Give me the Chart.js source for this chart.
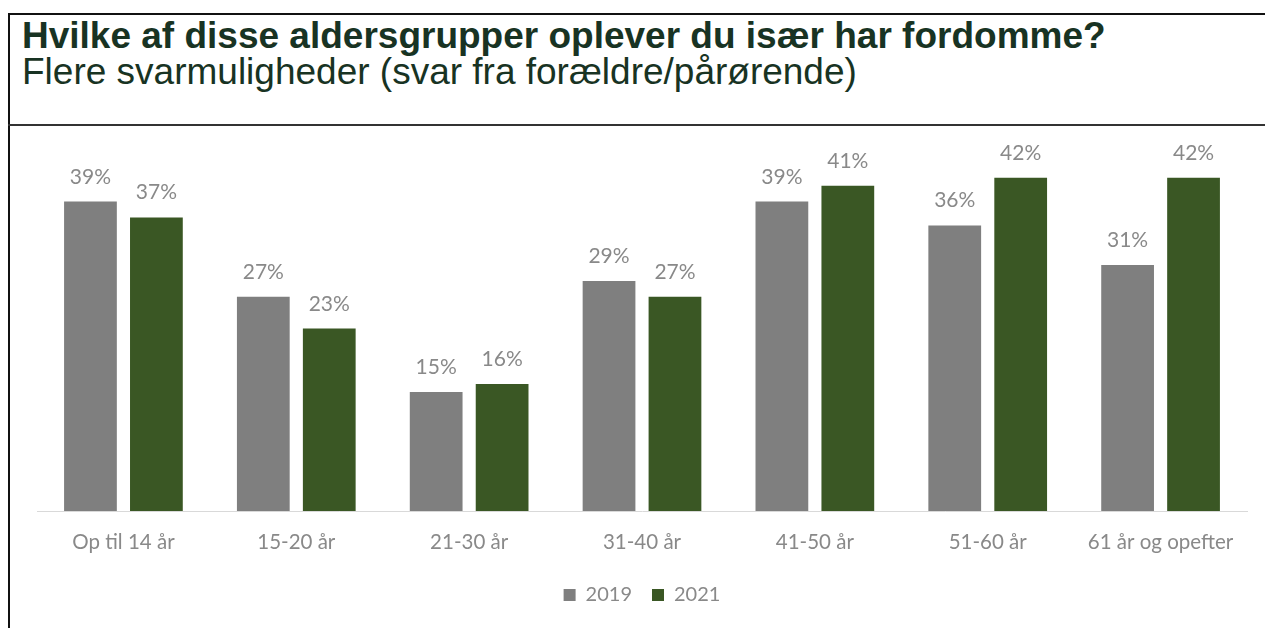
<!DOCTYPE html>
<html>
<head>
<meta charset="utf-8">
<script src="https://cdn.jsdelivr.net/npm/chart.js@4.4.0/dist/chart.umd.min.js"></script>
<style>
  html, body { margin: 0; padding: 0; background: #fff; }
  body { width: 1265px; height: 628px; position: relative; overflow: hidden; }
  .topline { position: absolute; left: 8px; top: 13px; width: 1257px; height: 2px; background: #111; }
  .leftline { position: absolute; left: 8px; top: 13px; width: 2px; height: 615px; background: #111; }
  .sepline { position: absolute; left: 8px; top: 124px; width: 1257px; height: 2px; background: #333; }
  .title { position: absolute; left: 22px; top: 17px; font-family: "Liberation Sans", Arial, sans-serif; font-weight: bold; font-size: 37px; line-height: 37px; color: #183323; white-space: nowrap; }
  .subtitle { position: absolute; left: 22px; top: 53px; font-family: "Liberation Sans", Arial, sans-serif; font-size: 37px; line-height: 37px; color: #183323; white-space: nowrap; }
  #c { position: absolute; left: 10px; top: 126px; }
</style>
</head>
<body>
<div class="topline"></div>
<div class="leftline"></div>
<div class="sepline"></div>
<div class="title">Hvilke af disse aldersgrupper oplever du især har fordomme?</div>
<div class="subtitle">Flere svarmuligheder (svar fra forældre/pårørende)</div>
<canvas id="c" width="1255" height="502"></canvas>
<script>
const categories = ["Op til 14 år", "15-20 år", "21-30 år", "31-40 år", "41-50 år", "51-60 år", "61 år og opefter"];
const values2019 = [39, 27, 15, 29, 39, 36, 31];
const values2021 = [37, 23, 16, 27, 41, 42, 42];
const seriesLabels = ["2019", "2021"];

const labelPlugin = {
  id: 'valueLabels',
  afterDatasetsDraw(chart) {
    const ctx = chart.ctx;
    ctx.save();
    ctx.font = '21px Lato, "Open Sans", sans-serif';
    ctx.fillStyle = '#898989';
    ctx.textAlign = 'center';
    ctx.textBaseline = 'alphabetic';
    chart.data.datasets.forEach((ds, i) => {
      chart.getDatasetMeta(i).data.forEach((bar, j) => {
        ctx.fillText(ds.data[j] + '%', bar.x, bar.y - 18);
      });
    });
    ctx.restore();
  }
};

new Chart(document.getElementById('c'), {
  type: 'bar',
  data: {
    labels: categories,
    datasets: [
      { label: seriesLabels[0], data: values2019, backgroundColor: '#7f7f7f', categoryPercentage: 0.763, barPercentage: 0.8 },
      { label: seriesLabels[1], data: values2021, backgroundColor: '#3a5724', categoryPercentage: 0.763, barPercentage: 0.8 }
    ]
  },
  options: {
    responsive: false,
    animation: false,
    layout: { padding: { top: 28, left: 27, right: 18, bottom: 13 } },
    plugins: {
      legend: {
        position: 'bottom',
        labels: {
          boxWidth: 12, boxHeight: 12, padding: 20,
          color: '#898989',
          font: { family: 'Lato, "Open Sans", sans-serif', size: 20 }
        }
      },
      tooltip: { enabled: false }
    },
    scales: {
      y: { display: false, min: 0, max: 45 },
      x: {
        grid: { display: false, drawTicks: false },
        border: { display: true, color: '#d9d9d9', width: 1 },
        ticks: { color: '#898989', padding: 19, font: { family: 'Lato, "Open Sans", sans-serif', size: 20.5 } },
        afterFit(scale) { scale.height = 54; }
      }
    }
  },
  plugins: [labelPlugin]
});
</script>
</body>
</html>
